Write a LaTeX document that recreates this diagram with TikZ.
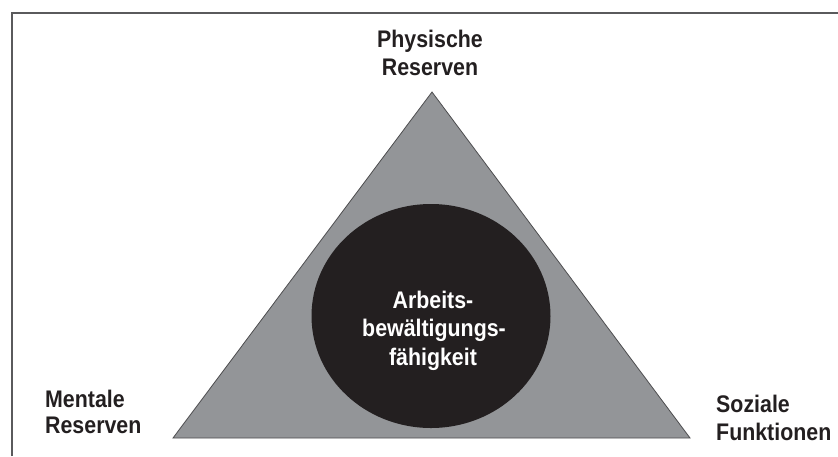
\documentclass[tikz,border=0pt]{standalone}
\usepackage{fontspec}
\setmainfont{Liberation Sans}[FakeStretch=0.89]
\usetikzlibrary{shapes.geometric}
\definecolor{inkblack}{HTML}{231F20}
\definecolor{trigray}{HTML}{939598}
\definecolor{edgegray}{HTML}{4D4D4F}
\definecolor{framegray}{HTML}{5A5A5C}
\begin{document}
\begin{tikzpicture}[x=1pt,y=-1pt,
  lbl/.style={font=\fontsize{24}{28}\selectfont\bfseries, text=inkblack, inner sep=0pt},
  corelbl/.style={lbl, text=white, anchor=base},
  tri/.style={fill=trigray, draw=edgegray, line width=0.8pt, line join=miter},
  core/.style={ellipse, fill=inkblack, draw=none, inner sep=0pt},
  frameline/.style={draw=framegray, line width=1.6pt}]
  \useasboundingbox (0,0) rectangle (838,456);

  % open frame: left and top edges
  \coordinate (fbl) at (12,456);
  \coordinate (ftl) at (12,13);
  \coordinate (ftr) at (838,13);
  \draw[frameline] (fbl) -- (ftl) -- (ftr);

  % triangle of the three resources
  \coordinate (apex) at (432,92);
  \coordinate (right) at (690,438);
  \coordinate (left) at (173,438);
  \draw[tri] (apex) -- (right) -- (left) -- cycle;

  % central ellipse
  \node[core, minimum width=239pt, minimum height=224pt] (centre) at (431,316) {};

  % centre text
  \node[corelbl] (c1) at (433,308) {Arbeits-};
  \node[corelbl] (c2) at (434,336) {bewältigungs-};
  \node[corelbl] (c3) at (433,365) {fähigkeit};

  % corner labels
  \node[lbl, anchor=base] (p1) at (430,47) {Physische};
  \node[lbl, anchor=base] (p2) at (430,75) {Reserven};
  \node[lbl, anchor=base west] (m1) at (45,407) {Mentale};
  \node[lbl, anchor=base west] (m2) at (45,433) {Reserven};
  \node[lbl, anchor=base west] (s1) at (716,412) {Soziale};
  \node[lbl, anchor=base west] (s2) at (716,440) {Funktionen};
\end{tikzpicture}
\end{document}
